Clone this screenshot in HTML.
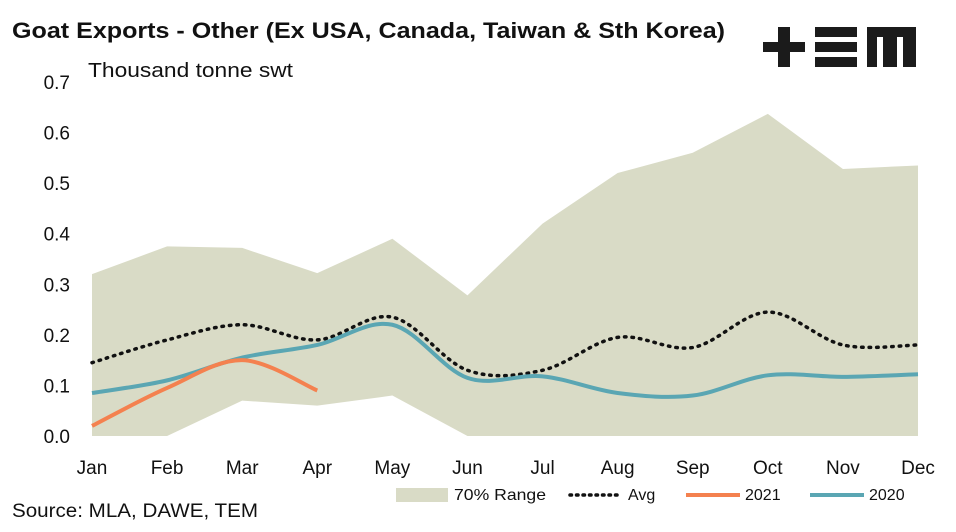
<!DOCTYPE html>
<html><head><meta charset="utf-8"><style>
body{margin:0;background:#fff;font-family:"Liberation Sans",Calibri,sans-serif}
svg text{font-family:"Liberation Sans",sans-serif}
</style></head><body>
<svg width="956" height="527" viewBox="0 0 956 527">
<text x="12" y="38" font-size="22" font-weight="bold" fill="#111" textLength="713" lengthAdjust="spacingAndGlyphs">Goat Exports - Other (Ex USA, Canada, Taiwan &amp; Sth Korea)</text>
<text x="88" y="77" font-size="20" fill="#111" textLength="205" lengthAdjust="spacingAndGlyphs">Thousand tonne swt</text>
<g fill="#1b1b1b">
<rect x="763" y="42" width="42" height="10"/><rect x="778" y="27" width="12" height="40"/>
<rect x="815" y="27" width="42" height="10"/><rect x="815" y="42" width="42" height="10"/><rect x="815" y="57" width="42" height="10"/>
<path d="M867 27H916V67H903V37H897V67H883V37H877V67H867Z"/>
</g>
<g id="plot"></g>
<text x="12" y="517" font-size="19" fill="#111" textLength="246" lengthAdjust="spacingAndGlyphs">Source: MLA, DAWE, TEM</text>
<g>
<rect x="396" y="488" width="52" height="14" fill="#d9dbc6"/>
<text x="454" y="500" font-size="16" fill="#111" textLength="92" lengthAdjust="spacingAndGlyphs">70% Range</text>
<line x1="570" y1="495" x2="620" y2="495" stroke="#111" stroke-width="3.5" stroke-dasharray="1.5 5" stroke-linecap="round"/>
<text x="628" y="500" font-size="16" fill="#111">Avg</text>
<line x1="686" y1="495" x2="740" y2="495" stroke="#f4814f" stroke-width="4"/>
<text x="745" y="500" font-size="16" fill="#111">2021</text>
<line x1="810" y1="495" x2="864" y2="495" stroke="#5aa6b3" stroke-width="4"/>
<text x="869" y="500" font-size="16" fill="#111">2020</text>
</g>
</svg>
<script>
const months=["Jan","Feb","Mar","Apr","May","Jun","Jul","Aug","Sep","Oct","Nov","Dec"];
const yTicks=[0,0.1,0.2,0.3,0.4,0.5,0.6,0.7];
const rangeHigh=[0.32,0.375,0.372,0.322,0.39,0.278,0.42,0.52,0.56,0.637,0.528,0.535];
const rangeLow=[0,0,0.07,0.06,0.08,0,0,0,0,0,0,0];
const avg=[0.145,0.19,0.22,0.19,0.235,0.13,0.13,0.195,0.175,0.245,0.18,0.18];
const s2021=[0.02,0.095,0.15,0.09];
const s2020=[0.085,0.11,0.155,0.18,0.22,0.115,0.118,0.085,0.08,0.12,0.117,0.122];
const NS="http://www.w3.org/2000/svg";
const g=document.getElementById('plot');
const X=i=>92+i*(918-92)/11;
const Y=v=>436-v*(436-82)/0.7;
function mk(t,a){const e=document.createElementNS(NS,t);for(const k in a)e.setAttribute(k,a[k]);g.appendChild(e);return e;}
function smooth(p){let d="M"+p[0][0]+" "+p[0][1];for(let i=0;i<p.length-1;i++){const p0=p[i-1]||p[i],p1=p[i],p2=p[i+1],p3=p[i+2]||p2;
const c1=[p1[0]+(p2[0]-p0[0])/6,p1[1]+(p2[1]-p0[1])/6],c2=[p2[0]-(p3[0]-p1[0])/6,p2[1]-(p3[1]-p1[1])/6];
d+=` C${c1[0]} ${c1[1]} ${c2[0]} ${c2[1]} ${p2[0]} ${p2[1]}`;}return d;}
let d="M"+rangeHigh.map((v,i)=>X(i)+" "+Y(v)).join(" L")+" L"+rangeLow.map((v,i)=>X(i)+" "+Y(v)).reverse().join(" L")+"Z";
const area=mk('path',{d:d,fill:'#d9dbc6'});


yTicks.forEach(v=>{const t=mk('text',{x:70,y:Y(v)+7,'font-size':19,'text-anchor':'end',fill:'#111'});t.textContent=v.toFixed(1);

});
months.forEach((m,i)=>{const t=mk('text',{x:X(i),y:474,'font-size':19,'text-anchor':'middle',fill:'#111'});t.textContent=m;

});
const a=mk('path',{d:smooth(avg.map((v,i)=>[X(i),Y(v)])),fill:'none',stroke:'#111','stroke-width':3.5,'stroke-dasharray':'1.5 6','stroke-linecap':'round'});


const l20=mk('path',{d:smooth(s2020.map((v,i)=>[X(i),Y(v)])),fill:'none',stroke:'#5aa6b3','stroke-width':4});


const l21=mk('path',{d:smooth(s2021.map((v,i)=>[X(i),Y(v)])),fill:'none',stroke:'#f4814f','stroke-width':4});


</script>
</body></html>
